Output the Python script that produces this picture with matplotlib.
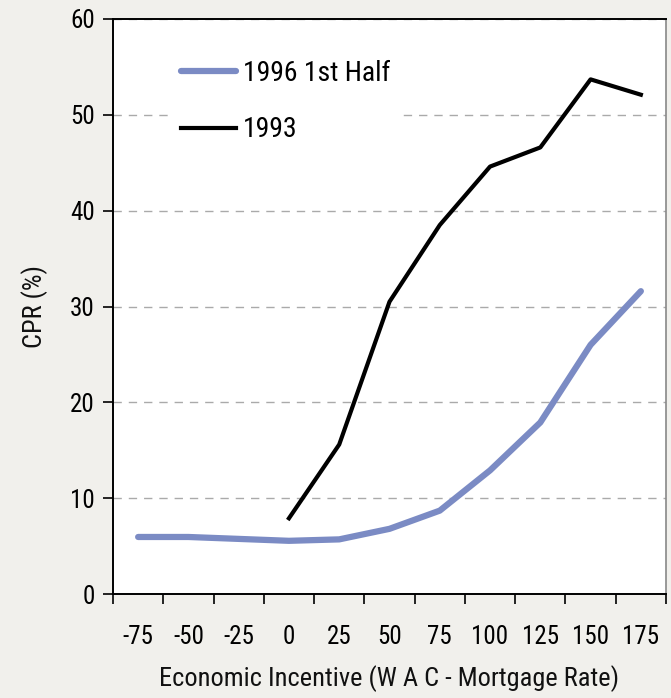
import matplotlib.pyplot as plt
import numpy as np
from matplotlib.ticker import FixedLocator

plt.rcParams['font.family'] = ['Liberation Sans Narrow', 'Roboto Condensed', 'DejaVu Sans']

# economic incentive buckets (bp) and CPR for each period
incentive = ['-75', '-50', '-25', '0', '25', '50', '75', '100', '125', '150', '175']
cpr_1996 = [5.95, 5.95, 5.75, 5.55, 5.7, 6.8, 8.7, 12.9, 17.9, 26.0, 31.6]
cpr_1993 = [np.nan, np.nan, np.nan, 7.9, 15.6, 30.5, 38.5, 44.6, 46.6, 53.7, 52.1]

bg = '#f1f0ec'
blue = '#7b8bc4'

fig = plt.figure(figsize=(6.71, 6.98), dpi=100, facecolor=bg)
ax = fig.add_axes([113 / 671, 1 - 594 / 698, 553 / 671, 575 / 698])
ax.set_facecolor('white')

x = np.arange(len(incentive))
ax.plot(x, cpr_1996, color=blue, lw=4.5, solid_capstyle='round', label='1996 1st Half', zorder=3)
ax.plot(x, cpr_1993, color='black', lw=3.0, label='1993', zorder=3)

ax.set_xlim(-0.5, len(incentive) - 0.5)
ax.set_ylim(0, 60)
ax.set_yticks(range(0, 61, 10))
ax.set_xticks(x)
ax.set_xticklabels(incentive)
ax.xaxis.set_minor_locator(FixedLocator(np.arange(-0.5, len(incentive), 1.0)))
ax.tick_params(axis='x', which='major', length=0, pad=22, labelsize=18)
ax.tick_params(axis='x', which='minor', length=7, width=1.2, color='black')
ax.tick_params(axis='y', length=7, width=1.2, labelsize=18, pad=6)

ax.grid(axis='y', color='#aaaaaa', ls=(0, (6, 5)), lw=1.0, zorder=1)

for side in ['left', 'bottom', 'top']:
    ax.spines[side].set_linewidth(1.4)
    ax.spines[side].set_color('black')
ax.spines['right'].set_color('#888888')
ax.spines['right'].set_linewidth(1.2)

ax.set_xlabel('Economic Incentive (W A C - Mortgage Rate)', fontsize=19, labelpad=12,
              color='#111111')
ax.set_ylabel('CPR (%)', fontsize=19, labelpad=16, color='#111111')

leg = ax.legend(loc='upper left', bbox_to_anchor=(0.077, 0.972), fontsize=20,
                frameon=True, fancybox=False, edgecolor='none', facecolor='white',
                framealpha=1, handlelength=2.0, handletextpad=0.25, labelspacing=1.05,
                borderpad=0.4)
leg.set_zorder(4)

fig.savefig('out.png', dpi=100, facecolor=bg)
